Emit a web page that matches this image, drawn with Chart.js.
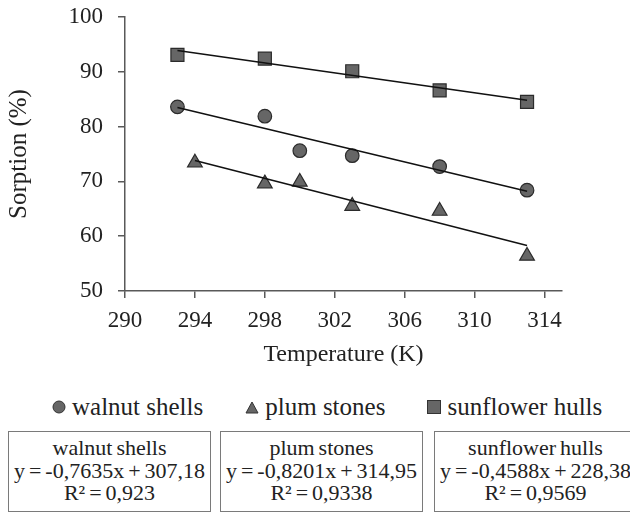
<!DOCTYPE html>
<html>
<head>
<meta charset="utf-8">
<script src="https://cdn.jsdelivr.net/npm/chart.js@4.4.1/dist/chart.umd.min.js"></script>
<style>
  body {
    margin: 0;
    width: 630px;
    height: 515px;
    overflow: hidden;
    position: relative;
    background: #fff;
    font-family: "Liberation Serif", serif;
    color: #222;
  }
  #sorptionChart { position: absolute; left: 0; top: 0; }
  .legend {
    position: absolute;
    left: 52px;
    top: 392px;
    display: flex;
    align-items: center;
    gap: 42px;
    font-size: 25px;
    line-height: 30px;
    white-space: nowrap;
  }
  .legend .item { display: flex; align-items: center; }
  .legend svg { margin-right: 6px; }
  .eq {
    position: absolute;
    top: 431px;
    width: 203px;
    height: 81px;
    box-sizing: border-box;
    border: 1.5px solid #7a7a7a;
    padding-top: 5px;
    text-align: center;
    font-size: 22px;
    word-spacing: -1.5px;
    line-height: 22.5px;
    white-space: nowrap;
  }
</style>
</head>
<body>
<canvas id="sorptionChart" width="630" height="380"></canvas>

<div class="legend">
  <span class="item"><svg width="14" height="14"><circle cx="7" cy="7" r="6" fill="#666" stroke="#333" stroke-width="1"/></svg>walnut shells</span>
  <span class="item"><svg width="14" height="13"><polygon points="7,1 13,12 1,12" fill="#666" stroke="#333" stroke-width="1"/></svg>plum stones</span>
  <span class="item"><svg width="14" height="14"><rect x="0.5" y="0.5" width="13" height="13" fill="#666" stroke="#333" stroke-width="1"/></svg>sunflower hulls</span>
</div>

<div class="eq" style="left: 8px;">walnut shells<br>y = -0,7635x + 307,18<br>R² = 0,923</div>
<div class="eq" style="left: 220px;">plum stones<br>y = -0,8201x + 314,95<br>R² = 0,9338</div>
<div class="eq" style="left: 434px;">sunflower hulls<br>y = -0,4588x + 228,38<br>R² = 0,9569</div>

<script>
// temperatures (K) and sorption (%)
var walnutT = [293, 298, 300, 303, 308, 313];
var walnutS = [83.6, 81.9, 75.6, 74.7, 72.7, 68.4];

var plumT = [294, 298, 300, 303, 308, 313];
var plumS = [73.4, 69.6, 69.9, 65.5, 64.6, 56.4];

var sunT = [293, 298, 303, 308, 313];
var sunS = [93.1, 92.4, 90.1, 86.6, 84.5];

// linear trendline ends
var walnutFitT = [293, 313];
var walnutFit = [83.5, 68.2];
var plumFitT = [294, 313];
var plumFit = [73.8, 58.3];
var sunFitT = [293, 313];
var sunFit = [93.9, 84.8];

var xTicks = [290, 294, 298, 302, 306, 310, 314];
var yTicks = [50, 60, 70, 80, 90, 100];

var serif = 'Liberation Serif';
var textColor = '#222';
var axisColor = '#595959';

Chart.defaults.font.family = serif;

function points(xs, ys) {
  return xs.map((x, i) => ({ x: x, y: ys[i] }));
}

function markerSet(label, xs, ys, style, radius) {
  return {
    label: label,
    data: points(xs, ys),
    pointStyle: style,
    pointRadius: radius,
    pointHoverRadius: radius,
    pointBackgroundColor: '#666',
    pointBorderColor: '#2b2b2b',
    pointBorderWidth: 1.2,
    showLine: false,
    order: 1
  };
}

function trendSet(label, xs, ys) {
  return {
    label: label,
    data: points(xs, ys),
    showLine: true,
    borderColor: '#111',
    borderWidth: 1.5,
    pointRadius: 0,
    pointHoverRadius: 0,
    fill: false,
    order: 0
  };
}

function drawChart() {
  new Chart(document.getElementById('sorptionChart'), {
    type: 'scatter',
    data: {
      datasets: [
        markerSet('walnut shells', walnutT, walnutS, 'circle', 6.8),
        markerSet('plum stones', plumT, plumS, 'triangle', 8.5),
        markerSet('sunflower hulls', sunT, sunS, 'rect', 9.2),
        trendSet('walnut trend', walnutFitT, walnutFit),
        trendSet('plum trend', plumFitT, plumFit),
        trendSet('sunflower trend', sunFitT, sunFit)
      ]
    },
    options: {
      responsive: false,
      animation: false,
      layout: { padding: { top: 17, right: 68, bottom: 0, left: 0 } },
      plugins: {
        legend: { display: false },
        tooltip: { enabled: false }
      },
      scales: {
        x: {
          type: 'linear',
          min: 290,
          max: 315,
          afterBuildTicks: (axis) => { axis.ticks = xTicks.map(v => ({ value: v })); },
          afterFit: (axis) => { axis.height = 89; },
          grid: { drawOnChartArea: false, tickLength: 7, color: axisColor, lineWidth: 1.5 },
          border: { color: axisColor, width: 1.5 },
          ticks: { color: textColor, font: { family: serif, size: 23 }, padding: 9, maxRotation: 0 },
          title: {
            display: true,
            text: 'Temperature (K)',
            color: textColor,
            font: { family: serif, size: 24 },
            padding: { top: 0, bottom: 11 }
          }
        },
        y: {
          min: 50,
          max: 100,
          afterBuildTicks: (axis) => { axis.ticks = yTicks.map(v => ({ value: v })); },
          afterFit: (axis) => {
            axis.width = 125;
            // the label gap should not push the plot top down
            axis.paddingTop = 0;
            axis.paddingBottom = 0;
          },
          grid: { drawOnChartArea: false, tickLength: 7, color: axisColor, lineWidth: 1.5 },
          border: { color: axisColor, width: 1.5 },
          ticks: { color: textColor, font: { family: serif, size: 23 }, padding: 15 },
          title: {
            display: true,
            text: 'Sorption (%)',
            color: textColor,
            font: { family: serif, size: 25 },
            padding: { top: 4, bottom: 0 }
          }
        }
      }
    }
  });
}

// make sure the serif face is ready before the canvas text is drawn
document.fonts.load('23px "Liberation Serif"').then(drawChart, drawChart);
</script>
</body>
</html>
